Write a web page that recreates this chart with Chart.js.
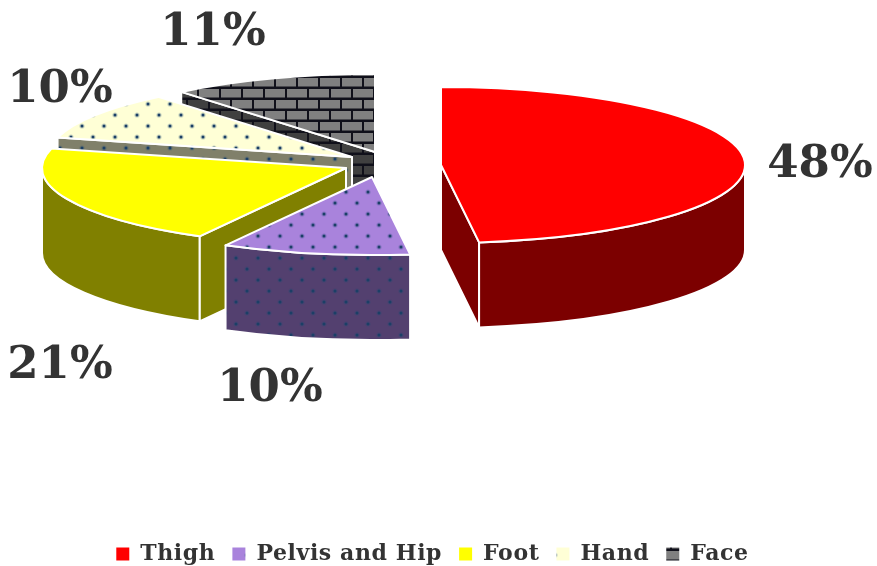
<!DOCTYPE html>
<html>
<head>
<meta charset="utf-8">
<title>Injury sites</title>
<script src="https://cdn.jsdelivr.net/npm/chart.js@4/dist/chart.umd.min.js"></script>
<style>
    html, body { margin: 0; padding: 0; background: #ffffff; }
    canvas { display: block; }
</style>
</head>
<body>
<canvas id="pieChart" width="877" height="566"></canvas>
<script>
const categories = ["Thigh", "Pelvis and Hip", "Foot", "Hand", "Face"];
const shares = [48, 10, 21, 10, 11];

// centre of each pulled-out slice on the page
const sliceCentreX = [441, 372, 346, 352, 375];
const sliceCentreY = [165, 177, 168, 157, 152];
// where the percent labels sit
const labelX = [820, 270, 60, 60, 213];
const labelY = [165, 389, 366, 90, 33];

const topColors = ["#ff0000", "#a983dc", "#ffff00", "#ffffd6", "#808080"];
const wallColors = ["#7c0000", "#53406f", "#808000", "#80806a", "#404040"];
const drawOrder = [4, 3, 2, 1, 0];

const radiusX = 304;
const radiusY = 78;
const depth = 85;
const textColor = "#333333";

document.addEventListener("DOMContentLoaded", function () {

    const canvas = document.getElementById("pieChart");

    // ── Fill patterns ──
    function dotPattern(base) {
        const tile = document.createElement("canvas");
        tile.width = 22;
        tile.height = 22;
        const c = tile.getContext("2d");
        c.fillStyle = base;
        c.fillRect(0, 0, 22, 22);
        [[5, 5], [16, 16]].forEach(p => {
            c.fillStyle = "rgba(31, 78, 121, 0.25)";
            c.beginPath();
            c.arc(p[0], p[1], 2.6, 0, Math.PI * 2);
            c.fill();
            c.fillStyle = "#1b3f66";
            c.beginPath();
            c.arc(p[0], p[1], 1.5, 0, Math.PI * 2);
            c.fill();
        });
        return c.createPattern(tile, "repeat");
    }

    function brickPattern(base) {
        const tile = document.createElement("canvas");
        tile.width = 22;
        tile.height = 22;
        const c = tile.getContext("2d");
        c.fillStyle = "#10101a";
        c.fillRect(0, 0, 22, 22);
        c.fillStyle = base;
        c.fillRect(1, 1, 20, 8.5);
        c.fillRect(0, 12, 10, 8.5);
        c.fillRect(12, 12, 10, 8.5);
        return c.createPattern(tile, "repeat");
    }

    const topFills = [
        topColors[0],
        dotPattern(topColors[1]),
        topColors[2],
        dotPattern(topColors[3]),
        brickPattern(topColors[4])
    ];
    const wallFills = [
        wallColors[0],
        dotPattern(wallColors[1]),
        wallColors[2],
        dotPattern(wallColors[3]),
        brickPattern(wallColors[4])
    ];

    function paint(ctx, fill) {
        ctx.fillStyle = fill;
        ctx.fill();
        ctx.strokeStyle = "#ffffff";
        ctx.lineWidth = 2;
        ctx.lineJoin = "round";
        ctx.stroke();
    }

    function cutFace(ctx, cx, cy, angle, fill) {
        const ex = cx + radiusX * Math.cos(angle);
        const ey = cy + radiusY * Math.sin(angle);
        ctx.beginPath();
        ctx.moveTo(cx, cy);
        ctx.lineTo(ex, ey);
        ctx.lineTo(ex, ey + depth);
        ctx.lineTo(cx, cy + depth);
        ctx.closePath();
        paint(ctx, fill);
    }

    // ── Squashed 3D slices, angles come from the pie's own arc elements ──
    const slices3d = {
        id: "slices3d",
        beforeUpdate(chart) {
            chart.ctx.letterSpacing = "0.6px";
        },
        beforeDatasetsDraw(chart) {
            const ctx = chart.ctx;
            const arcs = chart.getDatasetMeta(0).data;

            drawOrder.forEach(i => {
                const cx = sliceCentreX[i];
                const cy = sliceCentreY[i];
                const start = arcs[i].startAngle;
                const end = arcs[i].endAngle;

                // cut edges that face the viewer
                if (Math.cos(start) < -0.01) cutFace(ctx, cx, cy, start, wallFills[i]);
                if (Math.cos(end) > 0.01) cutFace(ctx, cx, cy, end, wallFills[i]);

                // outer wall, only the front half of the rim
                const a = Math.max(start, 0);
                const b = Math.min(end, Math.PI);
                if (b > a) {
                    ctx.beginPath();
                    ctx.ellipse(cx, cy, radiusX, radiusY, 0, a, b);
                    ctx.ellipse(cx, cy + depth, radiusX, radiusY, 0, b, a, true);
                    ctx.closePath();
                    paint(ctx, wallFills[i]);
                }

                // top surface
                ctx.beginPath();
                ctx.moveTo(cx, cy);
                ctx.ellipse(cx, cy, radiusX, radiusY, 0, start, end);
                ctx.closePath();
                paint(ctx, topFills[i]);
            });

            // ── Percent labels ──
            ctx.save();
            ctx.letterSpacing = "0px";
            ctx.fillStyle = textColor;
            ctx.font = "bold 45px 'DejaVu Serif'";
            ctx.textAlign = "center";
            ctx.textBaseline = "middle";
            shares.forEach((s, i) => {
                ctx.fillText(s + "%", labelX[i], labelY[i]);
            });
            ctx.restore();

            return false;
        }
    };

    new Chart(canvas, {
        type: "pie",
        data: {
            labels: categories,
            datasets: [{
                data: shares,
                backgroundColor: topFills,
                borderWidth: 0
            }]
        },
        options: {
            responsive: false,
            animation: false,
            layout: { padding: { bottom: -9, right: 12 } },
            plugins: {
                tooltip: { enabled: false },
                legend: {
                    position: "bottom",
                    labels: {
                        boxWidth: 13,
                        boxHeight: 13,
                        padding: 17,
                        color: textColor,
                        font: { size: 22, weight: "bold", family: "'DejaVu Serif', serif" }
                    }
                }
            }
        },
        plugins: [slices3d]
    });
});
</script>
</body>
</html>
